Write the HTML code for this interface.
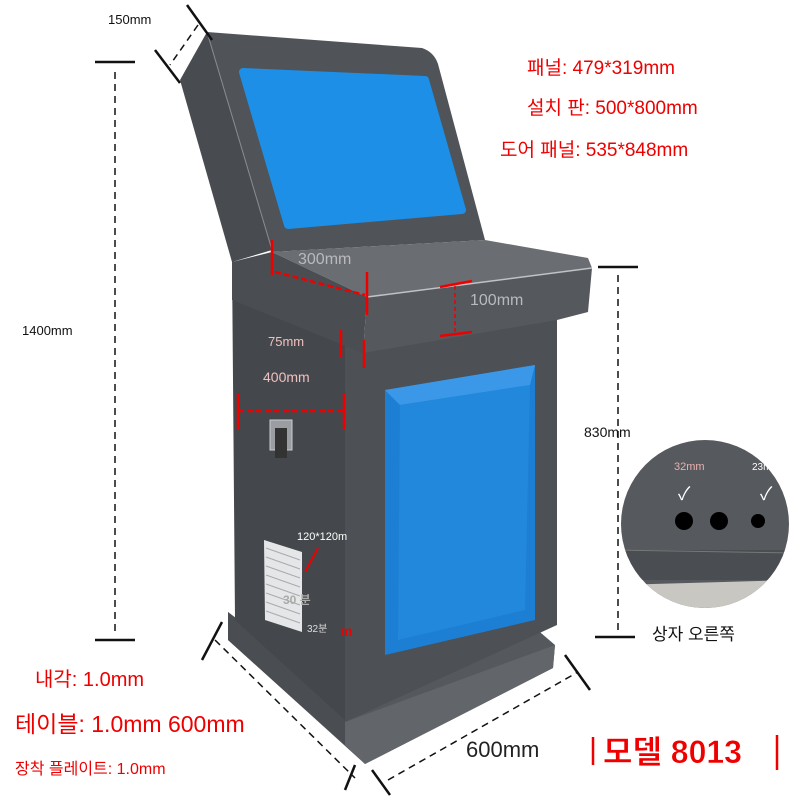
<!DOCTYPE html>
<html><head><meta charset="utf-8"><style>
html,body{margin:0;padding:0;background:#fff;width:800px;height:800px;overflow:hidden}
svg{display:block}
text{font-family:"Liberation Sans","Noto Sans CJK KR",sans-serif}
</style></head><body>
<svg width="800" height="800" viewBox="0 0 800 800">
<rect width="800" height="800" fill="#fff"/>
<!-- base -->
<polygon points="228,612 345,700 520,615 555,645 553,668 365,764 228,640" fill="#55585d"/>
<polygon points="228,612 345,710 345,745 228,640" fill="#4a4d51"/>
<polygon points="345,722 555,645 553,668 365,764 345,745" fill="#62656a"/>
<!-- body side -->
<polygon points="232,260 345,345 345,720 235,620" fill="#44474b"/>
<!-- body front -->
<polygon points="345,345 557,318 557,625 345,722" fill="#4d5055"/>
<!-- door -->
<polygon points="385,390 535,365 535,620 385,655" fill="#1d7fd4"/>
<polygon points="385,390 535,365 530,385 400,405" fill="#3b98e8"/>
<polygon points="400,405 530,385 525,610 398,640" fill="#2288dc"/>
<!-- head side -->
<polygon points="207,32 180,80 232,262 272,250" fill="#484b50"/>
<!-- head front -->
<path d="M207,32 L422,48 Q434,52 438,64 L485,240 L272,252 Z" fill="#505358"/>
<line x1="207" y1="32" x2="272" y2="250" stroke="#8a8d92" stroke-width="1"/>
<!-- screen -->
<polygon points="243,72 425,80 462,210 288,225" fill="#1d8fe6" stroke="#1d8fe6" stroke-width="8" stroke-linejoin="round"/>
<!-- desk -->
<polygon points="272,252 485,240 588,258 592,268 367,297" fill="#6a6d72"/>
<polygon points="367,297 592,268 588,312 557,320 363,353" fill="#55585d"/>
<polygon points="272,252 367,297 363,353 232,300 232,262" fill="#4a4d52"/>
<line x1="367" y1="297" x2="592" y2="268" stroke="#bfc2c6" stroke-width="1.5"/>
<!-- handle -->
<rect x="270" y="420" width="22" height="30" fill="#9a9da2" stroke="#ccc"/>
<rect x="275" y="428" width="12" height="30" fill="#333" />
<!-- vent -->
<polygon points="264,540 302,552 302,632 265,620" fill="#e4e6e8"/>
<g stroke="#a8abae" stroke-width="1"><line x1="266" y1="548" x2="300" y2="560"/><line x1="266" y1="557" x2="300" y2="569"/><line x1="266" y1="566" x2="300" y2="578"/><line x1="266" y1="575" x2="300" y2="587"/><line x1="266" y1="584" x2="300" y2="596"/><line x1="266" y1="593" x2="300" y2="605"/><line x1="266" y1="602" x2="300" y2="614"/><line x1="266" y1="611" x2="300" y2="623"/></g>
<line x1="318" y1="548" x2="305" y2="572" stroke="#e00" stroke-width="2"/>
<!-- red dims -->
<g stroke="#e00" stroke-width="2.5">
<line x1="272" y1="240" x2="272" y2="275"/><line x1="367" y1="272" x2="367" y2="315"/>
<line x1="275" y1="272" x2="365" y2="295" stroke-dasharray="6,3"/>
<line x1="440" y1="287" x2="472" y2="281"/><line x1="440" y1="336" x2="472" y2="332"/>
<line x1="455" y1="286" x2="455" y2="333" stroke-dasharray="4,3" stroke-width="1.5"/>
<line x1="341" y1="330" x2="341" y2="358"/><line x1="364" y1="340" x2="364" y2="368"/>
<line x1="238" y1="393" x2="238" y2="430"/><line x1="344" y1="393" x2="344" y2="430"/>
<line x1="238" y1="411" x2="344" y2="411" stroke-dasharray="6,3"/>
<line x1="593" y1="737" x2="593" y2="765"/><line x1="777" y1="735" x2="777" y2="770"/>
</g>
<!-- black dims -->
<g stroke="#111" stroke-width="2.5">
<line x1="95" y1="62" x2="135" y2="62"/><line x1="95" y1="640" x2="135" y2="640"/>
<line x1="598" y1="267" x2="638" y2="267"/><line x1="595" y1="637" x2="635" y2="637"/>
<line x1="187" y1="5" x2="212" y2="40"/><line x1="155" y1="50" x2="180" y2="83"/>
<line x1="222" y1="622" x2="202" y2="660"/><line x1="355" y1="765" x2="345" y2="790"/>
<line x1="372" y1="770" x2="390" y2="795"/><line x1="565" y1="655" x2="590" y2="690"/>
</g>
<g stroke="#111" stroke-width="1.5" stroke-dasharray="7,5" fill="none">
<line x1="115" y1="72" x2="115" y2="635"/>
<line x1="618" y1="275" x2="618" y2="632"/>
<line x1="198" y1="25" x2="170" y2="65"/>
<line x1="215" y1="640" x2="355" y2="778"/>
<line x1="388" y1="780" x2="578" y2="672"/>
</g>
<!-- inset circle -->
<defs><clipPath id="c"><circle cx="705" cy="524" r="84"/></clipPath></defs>
<g clip-path="url(#c)">
<rect x="615" y="435" width="180" height="180" fill="#56595d"/>
<rect x="615" y="550" width="180" height="30" fill="#4a4d51"/>
<line x1="615" y1="550" x2="795" y2="553" stroke="#777" stroke-width="1"/>
<polygon points="615,585 795,580 795,615 615,615" fill="#c9c7c2"/>
</g>
<circle cx="684" cy="521" r="9" fill="#000"/><circle cx="719" cy="521" r="9" fill="#000"/><circle cx="758" cy="521" r="7" fill="#000"/>
<text x="674" y="470" font-size="11" fill="#e8b0b0">32mm</text>
<text x="752" y="470" font-size="10" fill="#fff">23mm</text>
<text x="678" y="500" font-size="18" fill="#fff">✓</text>
<text x="760" y="500" font-size="18" fill="#fff">✓</text>
<!-- labels -->
<text x="108" y="24" font-size="13" fill="#111">150mm</text>
<text x="22" y="335" font-size="13" fill="#111">1400mm</text>
<text x="584" y="437" font-size="14" fill="#111">830mm</text>
<text x="527" y="74" font-size="19" fill="#e00">패널: 479*319mm</text>
<text x="527" y="114" font-size="19" fill="#e00">설치 판: 500*800mm</text>
<text x="500" y="156" font-size="19" fill="#e00">도어 패널: 535*848mm</text>
<text x="298" y="264" font-size="16" fill="#b8babd">300mm</text>
<text x="470" y="305" font-size="16" fill="#b8babd">100mm</text>
<text x="268" y="346" font-size="13" fill="#f0c0c0">75mm</text>
<text x="263" y="382" font-size="14" fill="#f0c0c0">400mm</text>
<text x="297" y="540" font-size="11" fill="#fff">120*120m</text>
<text x="283" y="604" font-size="12" fill="#aaa" font-weight="bold">30 분</text>
<text x="307" y="632" font-size="10" fill="#ddd">32분</text>
<text x="340" y="636" font-size="14" fill="#e00" font-weight="bold">m</text>
<text x="652" y="640" font-size="17" fill="#111">상자 오른쪽</text>
<text x="35" y="686" font-size="20" fill="#e00">내각: 1.0mm</text>
<text x="15" y="732" font-size="23" fill="#e00">테이블: 1.0mm 600mm</text>
<text x="15" y="774" font-size="16" fill="#e00">장착 플레이트: 1.0mm</text>
<text x="466" y="757" font-size="22" fill="#222">600mm</text>
<text x="603" y="763" font-size="32" fill="#e00" font-weight="bold" stroke="#fff" stroke-width="0.5">모델 8013</text>
</svg>
</body></html>
